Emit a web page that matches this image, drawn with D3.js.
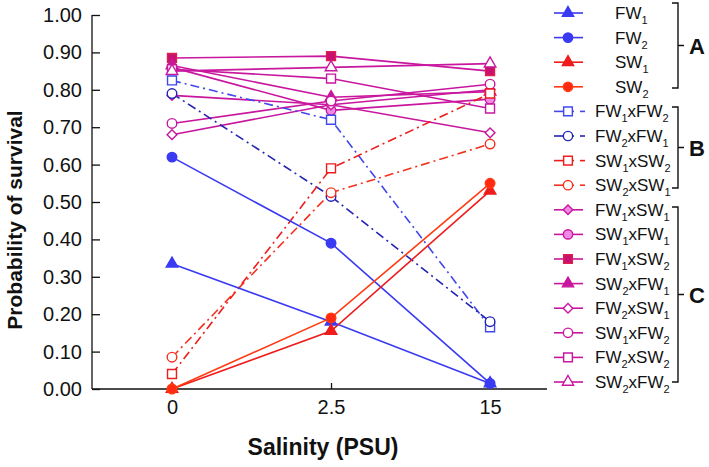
<!DOCTYPE html>
<html>
<head>
<meta charset="utf-8">
<script src="https://cdn.jsdelivr.net/npm/d3@7"></script>
<style>
  body { margin: 0; background: #fff; }
  svg text { font-family: "Liberation Sans", Arial, sans-serif; }
</style>
</head>
<body>
<div id="chart"></div>
<script>
// salinity levels (categories on x)
var salinity = ["0", "2.5", "15"];
var yTicks = [0, 0.1, 0.2, 0.3, 0.4, 0.5, 0.6, 0.7, 0.8, 0.9, 1.0];

// A: pure lines
var FW1 = [0.335, 0.180, 0.015];
var FW2 = [0.620, 0.390, 0.015];
var SW1 = [0.000, 0.155, 0.530];
var SW2 = [0.000, 0.190, 0.550];
// B: within-habitat crosses
var FW1xFW2 = [0.825, 0.720, 0.165];
var FW2xFW1 = [0.790, 0.515, 0.180];
var SW1xSW2 = [0.040, 0.590, 0.790];
var SW2xSW1 = [0.085, 0.525, 0.655];
// C: between-habitat crosses
var FW1xSW1 = [0.785, 0.760, 0.800];
var SW1xFW1 = [0.860, 0.745, 0.775];
var FW1xSW2 = [0.885, 0.890, 0.850];
var SW2xFW1 = [0.865, 0.780, 0.795];
var FW2xSW1 = [0.680, 0.760, 0.685];
var SW1xFW2 = [0.710, 0.770, 0.815];
var FW2xSW2 = [0.855, 0.830, 0.750];
var SW2xFW2 = [0.850, 0.860, 0.870];

var blue = "#3a3af2", navy = "#2323b4", red = "#ee1c1c", orange = "#ff3a12", mag = "#c8179e";

// name parts: [base, sub, base, sub]
var series = [
  { parts: ["FW", "1"], v: FW1, color: blue, shape: "tri", fill: blue, dash: null, group: "A" },
  { parts: ["FW", "2"], v: FW2, color: blue, shape: "circ", fill: blue, dash: null, group: "A" },
  { parts: ["SW", "1"], v: SW1, color: red, shape: "tri", fill: red, dash: null, group: "A" },
  { parts: ["SW", "2"], v: SW2, color: orange, shape: "circ", fill: "#ff2a10", dash: null, group: "A" },
  { parts: ["FW", "1", "xFW", "2"], v: FW1xFW2, color: "#4048ee", shape: "sq", fill: "#fff", dash: "9,4,2,4", group: "B" },
  { parts: ["FW", "2", "xFW", "1"], v: FW2xFW1, color: navy, shape: "circ", fill: "#fff", dash: "9,4,2,4", group: "B" },
  { parts: ["SW", "1", "xSW", "2"], v: SW1xSW2, color: red, shape: "sq", fill: "#fff", dash: "9,4,2,4", group: "B" },
  { parts: ["SW", "2", "xSW", "1"], v: SW2xSW1, color: "#f5301e", shape: "circ", fill: "#fff", dash: "9,4,2,4", group: "B" },
  { parts: ["FW", "1", "xSW", "1"], v: FW1xSW1, color: mag, shape: "dia", fill: "#f08ae4", dash: null, group: "C" },
  { parts: ["SW", "1", "xFW", "1"], v: SW1xFW1, color: mag, shape: "circ", fill: "#f08ae4", dash: null, group: "C" },
  { parts: ["FW", "1", "xSW", "2"], v: FW1xSW2, color: mag, shape: "sq", fill: "#c8106e", dash: null, group: "C", stroke: "#dd2050" },
  { parts: ["SW", "2", "xFW", "1"], v: SW2xFW1, color: mag, shape: "tri", fill: mag, dash: null, group: "C" },
  { parts: ["FW", "2", "xSW", "1"], v: FW2xSW1, color: mag, shape: "dia", fill: "#fff", dash: null, group: "C" },
  { parts: ["SW", "1", "xFW", "2"], v: SW1xFW2, color: mag, shape: "circ", fill: "#fff", dash: null, group: "C" },
  { parts: ["FW", "2", "xSW", "2"], v: FW2xSW2, color: mag, shape: "sq", fill: "#fff", dash: null, group: "C" },
  { parts: ["SW", "2", "xFW", "2"], v: SW2xFW2, color: mag, shape: "tri", fill: "#fff", dash: null, group: "C" }
];

var W = 709, H = 467;
var svg = d3.select("#chart").append("svg").attr("width", W).attr("height", H);

var x = d3.scaleLinear().domain([-0.503, 2.358]).range([92, 547]);
var y = d3.scaleLinear().domain([0, 1]).range([389, 15]);

// k scales the marker (1 = plot size)
function markerPath(shape, k) {
  if (shape === "circ") return d3.symbol().type(d3.symbolCircle).size(72 * k)();
  if (shape === "sq") return d3.symbol().type(d3.symbolSquare).size(80 * k)();
  if (shape === "tri") return d3.symbol().type(d3.symbolTriangle).size(58 * k)();
  if (shape === "dia") return d3.symbol().type(d3.symbolSquare).size(48 * k)();
}
function markerRot(shape) { return shape === "dia" ? " rotate(45)" : ""; }

// axes
var yAxis = d3.axisLeft(y).tickValues(yTicks).tickSize(-8).tickPadding(10)
  .tickFormat(d3.format(".2f"));
var gy = svg.append("g").attr("transform", "translate(92,0)").call(yAxis);
gy.select(".domain").attr("d", "M0,15V389").attr("stroke", "#111").attr("stroke-width", 1.3);
gy.selectAll(".tick line").attr("stroke", "#111").attr("stroke-width", 1.3);
gy.selectAll(".tick text").attr("font-size", 20).attr("fill", "#111")
  .attr("font-family", "Liberation Sans, Arial, sans-serif");

var xAxis = d3.axisBottom(x).tickValues([0, 1, 2]).tickSize(-6).tickPadding(11)
  .tickFormat(function(i){ return salinity[i]; });
var gx = svg.append("g").attr("transform", "translate(0,389)").call(xAxis);
gx.select(".domain").attr("d", "M92,0H547").attr("stroke", "#111").attr("stroke-width", 1.3);
gx.selectAll(".tick line").attr("stroke", "#111").attr("stroke-width", 1.3);
gx.selectAll(".tick text").attr("font-size", 20).attr("fill", "#111")
  .attr("font-family", "Liberation Sans, Arial, sans-serif");

// titles
svg.append("text").attr("x", 323).attr("y", 455).attr("text-anchor", "middle")
  .attr("font-size", 23).attr("font-weight", "bold").attr("fill", "#111")
  .text("Salinity (PSU)");
svg.append("text").attr("transform", "translate(22,220) rotate(-90)")
  .attr("text-anchor", "middle").attr("font-size", 21).attr("font-weight", "bold")
  .attr("fill", "#111").text("Probability of survival");

// lines
var line = d3.line().x(function(d, i){ return x(i); }).y(function(d){ return y(d); });
var drawOrder = series.slice(8).concat(series.slice(4, 8)).concat(series.slice(0, 4));

var lines = svg.append("g");
drawOrder.forEach(function(s){
  lines.append("path").attr("d", line(s.v)).attr("fill", "none")
    .attr("stroke", s.color).attr("stroke-width", 1.6)
    .attr("stroke-dasharray", s.dash);
});
var marks = svg.append("g");
drawOrder.forEach(function(s){
  marks.selectAll(null).data(s.v).enter().append("path")
    .attr("transform", function(d, i){ return "translate(" + x(i) + "," + y(d) + ")" + markerRot(s.shape); })
    .attr("d", markerPath(s.shape, 1))
    .attr("fill", s.fill)
    .attr("stroke", s.stroke || s.color).attr("stroke-width", 1.4);
});

// legend
var leg = svg.append("g");
series.forEach(function(s, i){
  var ly = 13 + i * 24.6;
  if (s.dash) {
    leg.append("line").attr("x1", 554).attr("x2", 574).attr("y1", ly).attr("y2", ly)
      .attr("stroke", s.color).attr("stroke-width", 1.6);
    leg.append("line").attr("x1", 580).attr("x2", 585).attr("y1", ly).attr("y2", ly)
      .attr("stroke", s.color).attr("stroke-width", 1.6);
  } else {
    leg.append("line").attr("x1", 554).attr("x2", 583).attr("y1", ly).attr("y2", ly)
      .attr("stroke", s.color).attr("stroke-width", 1.6);
  }
  leg.append("path").attr("transform", "translate(568," + ly + ")" + markerRot(s.shape))
    .attr("d", markerPath(s.shape, 0.95))
    .attr("fill", s.fill).attr("stroke", s.stroke || s.color).attr("stroke-width", 1.4);
  var t = leg.append("text").attr("x", s.group === "A" ? 615 : 595).attr("y", ly + 6)
    .attr("font-size", 17).attr("fill", "#111");
  s.parts.forEach(function(p, k){
    var sub = (k % 2 === 1);
    t.append("tspan").attr("font-size", sub ? 11 : 17)
      .attr("dy", sub ? 5 : (k > 0 ? -5 : 0)).text(p);
  });
});

// brackets
var brackets = [
  { label: "A", y0: 3, y1: 88 },
  { label: "B", y0: 107, y1: 188 },
  { label: "C", y0: 207, y1: 382 }
];
brackets.forEach(function(b){
  var mid = (b.y0 + b.y1) / 2;
  leg.append("path")
    .attr("d", "M672," + b.y0 + "H678V" + b.y1 + "H672M678," + mid + "H684")
    .attr("fill", "none").attr("stroke", "#111").attr("stroke-width", 1.4);
  leg.append("text").attr("x", 697).attr("y", mid + 8).attr("text-anchor", "middle")
    .attr("font-size", 22).attr("font-weight", "bold").attr("fill", "#111").text(b.label);
});
</script>
</body>
</html>
